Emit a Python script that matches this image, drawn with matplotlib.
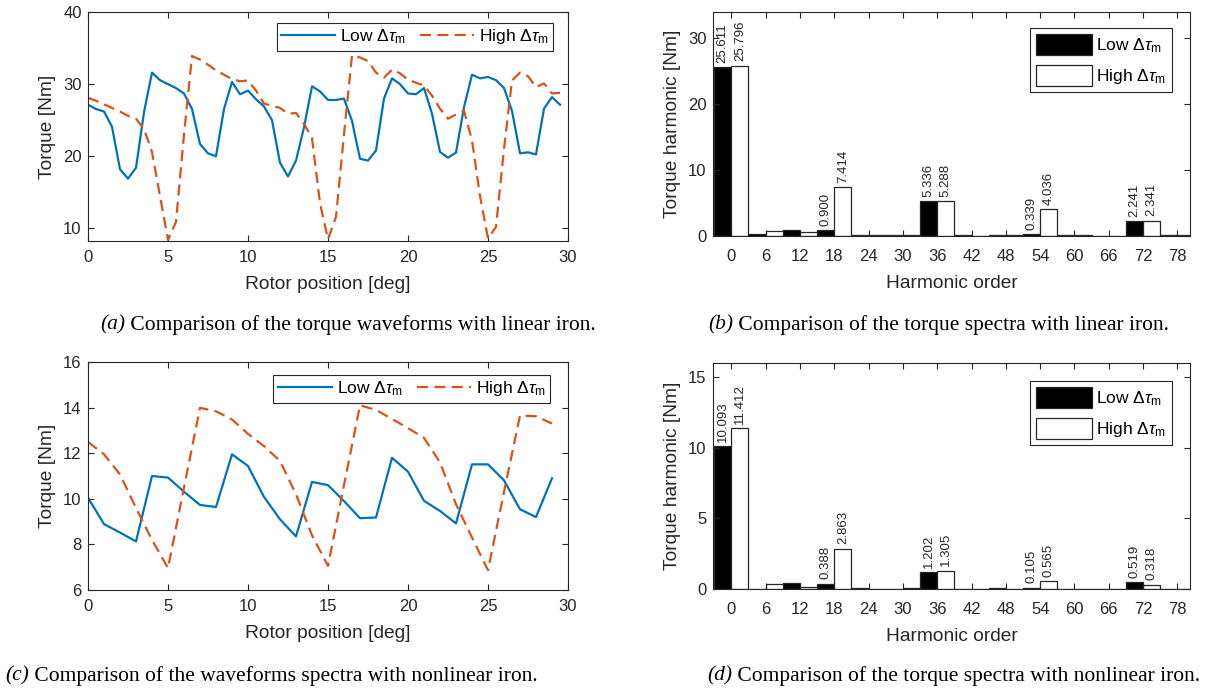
import matplotlib
matplotlib.use("Agg")
import matplotlib.pyplot as plt
import numpy as np
from matplotlib.patches import Patch

plt.rcParams['font.family'] = ['Liberation Sans', 'DejaVu Sans']
plt.rcParams['mathtext.fontset'] = 'custom'
plt.rcParams['mathtext.rm'] = 'Liberation Sans'
plt.rcParams['mathtext.it'] = 'Liberation Sans:italic'
plt.rcParams['mathtext.fallback'] = 'cm'

# rotor angle samples (deg)
angleLin = np.arange(0, 30, 0.5)
angleNl = np.arange(0, 30, 1)

# torque waveforms, linear iron
lowLin = [27.15, 26.55, 26.2, 24.1, 18.2, 16.9, 18.4, 26.1, 31.6, 30.55,
          30.0, 29.45, 28.7, 26.55, 21.7, 20.4, 20.0, 26.55, 30.3, 28.6,
          29.1, 27.9, 26.9, 25.0, 19.1, 17.2, 19.4, 24.0, 29.7, 29.0,
          27.8, 27.8, 28.0, 24.9, 19.65, 19.4, 20.8, 28.0, 30.8, 30.0,
          28.7, 28.6, 29.45, 25.9, 20.6, 19.8, 20.5, 26.8, 31.3, 30.8,
          31.0, 30.55, 29.45, 26.3, 20.4, 20.55, 20.25, 26.6, 28.2, 27.15]
highLin = [28.1, 27.7, 27.2, 26.7, 26.2, 25.6, 25.2, 23.8, 20.6, 14.5,
           8.4, 10.9, 23.0, 33.9, 33.4, 32.7, 31.9, 31.3, 30.7, 30.4,
           30.5, 29.1, 27.3, 27.0, 26.7, 25.9, 26.0, 24.5, 22.5, 13.5,
           8.5, 11.6, 23.0, 34.0, 33.7, 33.2, 31.6, 30.9, 32.0, 31.5,
           30.6, 30.2, 29.8, 28.4, 26.6, 25.2, 25.8, 26.3, 22.2, 14.5,
           8.6, 10.2, 21.0, 30.5, 31.6, 31.1, 29.6, 30.1, 28.7, 28.8]

# torque waveforms, nonlinear iron
lowNl = [10.05, 8.89, 8.52, 8.13, 11.0, 10.93, 10.31, 9.73, 9.64, 11.95,
         11.44, 10.08, 9.1, 8.35, 10.74, 10.6, 9.9, 9.15, 9.18, 11.8,
         11.19, 9.91, 9.47, 8.92, 11.51, 11.51, 10.81, 9.54, 9.2, 10.9]
highNl = [12.49, 11.95, 11.07, 9.6, 8.2, 6.96, 10.5, 13.99, 13.84, 13.48,
          12.85, 12.31, 11.66, 10.2, 8.4, 7.06, 10.6, 14.1, 13.9, 13.5,
          13.1, 12.67, 11.6, 9.76, 8.3, 6.87, 10.3, 13.65, 13.62, 13.3]

# harmonic spectra
orders = np.array([0, 6, 12, 18, 24, 30, 36, 42, 48, 54, 60, 66, 72, 78])
lowSpecLin = [25.611, 0.3, 0.9, 0.900, 0.15, 0.1, 5.336, 0.1, 0.15, 0.339, 0.15, 0.05, 2.241, 0.1]
highSpecLin = [25.796, 0.8, 0.65, 7.414, 0.15, 0.1, 5.288, 0.05, 0.2, 4.036, 0.1, 0.05, 2.341, 0.2]
lowSpecNl = [10.093, 0.03, 0.45, 0.388, 0.08, 0.02, 1.202, 0.03, 0.05, 0.105, 0.02, 0.02, 0.519, 0.03]
highSpecNl = [11.412, 0.35, 0.12, 2.863, 0.02, 0.04, 1.305, 0.02, 0.02, 0.565, 0.02, 0.02, 0.318, 0.03]
labelled = [0, 18, 36, 54, 72]

lowLabel = r'Low $\Delta\tau_{\rm m}$'
highLabel = r'High $\Delta\tau_{\rm m}$'

W, H = 1217, 693
axCol = '#262626'
blue = '#0072BD'
red = '#D95319'

fig = plt.figure(figsize=(W / 100, H / 100), dpi=100)


def axesPx(left, top, right, bottom):
    return fig.add_axes([left / W, 1 - bottom / H, (right - left) / W, (bottom - top) / H])


def styleAxes(ax, xpad):
    for s in ax.spines.values():
        s.set_color(axCol)
        s.set_linewidth(0.8)
    ax.tick_params(direction='in', length=4.5, width=0.8, top=True, right=True,
                   colors=axCol, labelsize=12, labelcolor=axCol)
    ax.tick_params(axis='x', pad=xpad)
    ax.tick_params(axis='y', pad=4.5)


def wavePanel(ax, x, low, high, ylim, yticks, legAnchor):
    ax.plot(x, low, color=blue, lw=1.6, label=lowLabel)
    ax.plot(x, high, color=red, lw=1.6, dashes=(5, 2.8), label=highLabel)
    ax.set_xlim(0, 30)
    ax.set_ylim(*ylim)
    ax.set_xticks([0, 5, 10, 15, 20, 25, 30])
    ax.set_yticks(yticks)
    ax.set_xlabel('Rotor position [deg]', fontsize=13.8, color=axCol, labelpad=8)
    ax.set_ylabel('Torque [Nm]', fontsize=13.8, color=axCol, labelpad=5)
    styleAxes(ax, 6.5)
    leg = ax.legend(loc='upper right', bbox_to_anchor=legAnchor, borderaxespad=0, ncol=2,
                    fontsize=12.5, handlelength=3.1, handletextpad=0.3, columnspacing=0.8,
                    borderpad=0.25, fancybox=False, framealpha=1)
    leg.get_frame().set_edgecolor(axCol)
    leg.get_frame().set_linewidth(0.8)


def specPanel(ax, low, high, ytop, yticks, legAnchor):
    ax.bar(orders - 1.5, low, width=3, color='k', edgecolor=axCol, linewidth=0.9)
    ax.bar(orders + 1.5, high, width=3, color='w', edgecolor=axCol, linewidth=0.9)
    for i, n in enumerate(orders):
        if n in labelled:
            for dx, v in ((-1.5, low[i]), (1.5, high[i])):
                ax.annotate(f'{v:.3f}', xy=(n + dx, v), xytext=(0, 3), textcoords='offset points',
                            rotation=90, ha='center', va='bottom', fontsize=9.5, color=axCol)
    ax.set_xlim(-3.2, 80.2)
    ax.set_ylim(0, ytop)
    ax.set_xticks(orders)
    ax.set_yticks(yticks)
    ax.set_xlabel('Harmonic order', fontsize=13.8, color=axCol, labelpad=8)
    ax.set_ylabel('Torque harmonic [Nm]', fontsize=13.8, color=axCol, labelpad=5)
    styleAxes(ax, 9.5)
    handles = [Patch(facecolor='k', edgecolor=axCol, lw=0.9),
               Patch(facecolor='w', edgecolor=axCol, lw=0.9)]
    leg = ax.legend(handles, [lowLabel, highLabel], loc='upper right', bbox_to_anchor=legAnchor,
                    borderaxespad=0, fontsize=12.5, handlelength=3.2, handleheight=1.45,
                    handletextpad=0.25, labelspacing=0.6, borderpad=0.35,
                    fancybox=False, framealpha=1)
    leg.get_frame().set_edgecolor(axCol)
    leg.get_frame().set_linewidth(0.8)


def caption(xStart, yMid, tag, text, size=15.5):
    yf = 1 - yMid / H
    t = fig.text(xStart / W, yf, tag, fontsize=size, style='italic',
                 family='Liberation Serif', va='center')
    axA.annotate(' ' + text, xy=(1.0, yf), xycoords=(t, 'figure fraction'),
                 fontsize=size, family='Liberation Serif', va='center', annotation_clip=False)


axA = axesPx(88, 12, 568, 241)
axB = axesPx(713, 12, 1190, 236)
axC = axesPx(88, 362, 568, 590)
axD = axesPx(713, 363, 1190, 589)

wavePanel(axA, angleLin, lowLin, highLin, (8.25, 40), [10, 20, 30, 40], (0.969, 0.952))
wavePanel(axC, angleNl, lowNl, highNl, (6, 16), [6, 8, 10, 12, 14, 16], (0.9625, 0.943))
specPanel(axB, lowSpecLin, highSpecLin, 33.9, [0, 10, 20, 30], (0.962, 0.929))
specPanel(axD, lowSpecNl, highSpecNl, 16, [0, 5, 10, 15], (0.962, 0.92))

caption(100, 325, '(a)', 'Comparison of the torque waveforms with linear iron.')
caption(708, 325, '(b)', 'Comparison of the torque spectra with linear iron.')
caption(5, 676, '(c)', 'Comparison of the waveforms spectra with nonlinear iron.')
caption(707, 676, '(d)', 'Comparison of the torque spectra with nonlinear iron.')

fig.savefig('out.png', dpi=100)
